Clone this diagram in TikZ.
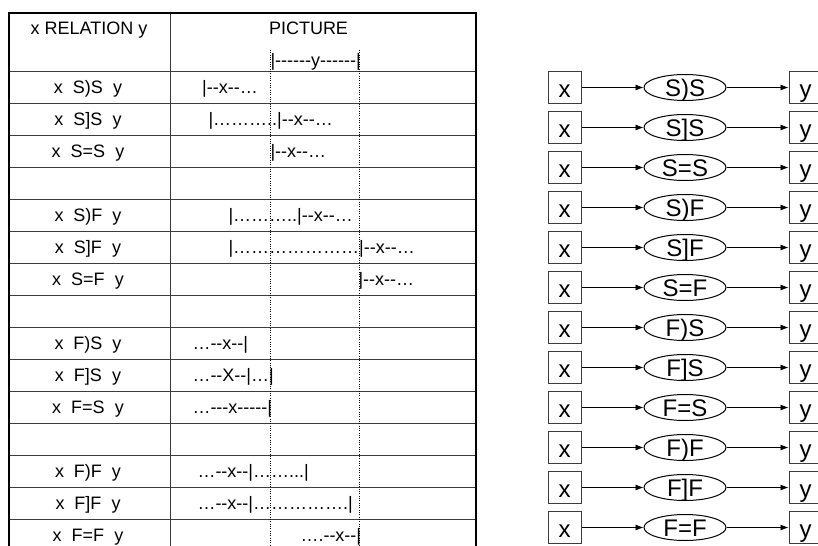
\documentclass[tikz,border=0pt]{standalone}
\usepackage{fontspec}
\setmainfont{Liberation Sans}[Ligatures=TeXOff]
\usetikzlibrary{arrows.meta,shapes.geometric}
\definecolor{rule}{HTML}{3C3C3C}

\begin{document}
\begin{tikzpicture}[x=0.75pt,y=-0.75pt,line width=0.75pt,
  cell/.style={font=\fontsize{13.5}{15}\selectfont,inner sep=0pt,anchor=base},
  seq/.style={cell,anchor=base west},
  xybox/.style={draw=rule,rectangle,minimum width=24.75pt,minimum height=24pt,inner sep=0pt,
    font=\fontsize{18}{20}\selectfont,text height=16.5pt,text depth=2pt},
  relation/.style={draw,ellipse,minimum width=61.5pt,minimum height=19.5pt,inner sep=0pt,
    font=\fontsize{18}{20}\selectfont,text height=13.4pt,text depth=0pt},
  link/.style={-{Latex[length=6pt,width=4.5pt]},line width=0.6pt}]
\useasboundingbox (0,0) rectangle (818,546);
% table
\foreach \r in {0,...,14} \draw[rule] (9,71+32*\r) -- (476,71+32*\r);
\draw[rule] (170,13) -- (170,546);
\draw[line width=2pt] (9,546) -- (9,13) -- (476,13) -- (476,546);
\draw[densely dotted] (270,50) -- (270,546);
\draw[densely dotted] (359,50) -- (359,546);
\node[cell] (hrel) at (89,35) {x RELATION y};
\node[cell] (hpic) at (308.5,35) {PICTURE};
\node[seq] (hy) at (270,66) {|------y------|};
\foreach \lab/\r in {S)S/0,S]S/1,S=S/2,S)F/4,S]F/5,S=F/6,F)S/8,F]S/9,F=S/10,F)F/12,F]F/13,F=F/14}
  \node[cell] (lab\r) at (88,93+32*\r) {x\ \ \lab\ \ y};
\foreach \px/\r/\txt in {201.7/0/{|--x--…},208/1/{|………..|--x--…},270/2/{|--x--…},
    228/4/{|………..|--x--…},228/5/{|…………………|--x--…},358/6/{|--x--…},
    192/8/{…--x--|},192/9/{…--X--|…|},192/10/{…---x-----|},
    197/12/{…--x--|……...|},197/13/{…--x--|…………….|},300/14/{….--x--|}}
  \node[seq] (seq\r) at (\px,93+32*\r) {\txt};
% relations
\foreach \rel [count=\i from 0] in {S)S,S]S,S=S,S)F,S]F,S=F,F)S,F]S,F=S,F)F,F]F,F=F}{
  \node[xybox] (x\i) at (564.5,87.5+40*\i) {x};
  \node[relation] (rel\i) at (685,87.5+40*\i) {\rel};
  \node[xybox] (y\i) at (805.5,87.5+40*\i) {y};
  \draw[link] (x\i) -- (rel\i);
  \draw[link] (rel\i) -- (y\i);
}
\end{tikzpicture}
\end{document}
